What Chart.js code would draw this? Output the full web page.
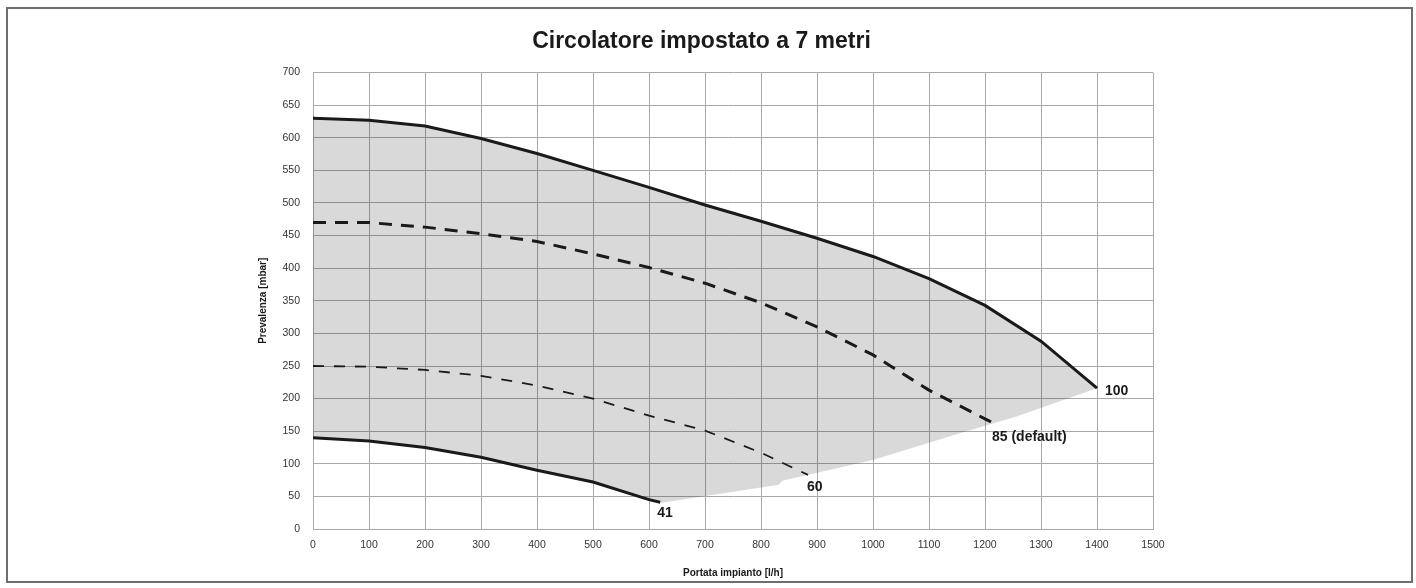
<!DOCTYPE html>
<html lang="it">
<head>
  <meta charset="UTF-8" />
  <title>Circolatore impostato a 7 metri</title>
  <script src="https://cdn.jsdelivr.net/npm/chart.js"></script>
  <style>
    body {
      margin: 0;
      background: #fff;
    }
    .wrap {
      position: relative;
      width: 1416px;
      height: 588px;
    }
    .frame {
      position: absolute;
      left: 6px;
      top: 7px;
      width: 1403px;
      height: 572px;
      border: 2px solid #6e6e6e;
      pointer-events: none;
    }
    canvas {
      position: absolute;
      left: 0;
      top: 0;
    }
  </style>
</head>
<body>
  <div class="wrap">
    <canvas id="pumpChart" width="1416" height="588"></canvas>
    <div class="frame"></div>
  </div>

  <script>
    // portata [l/h] / prevalenza [mbar]
    const flow100 = [0, 100, 200, 300, 400, 500, 600, 700, 800, 900, 1000, 1100, 1200, 1300, 1400];
    const head100 = [630, 627, 618, 599, 576, 550, 524, 497, 472, 446, 418, 384, 343, 288, 216];

    const flow85 = [0, 100, 200, 300, 400, 500, 600, 700, 800, 900, 1000, 1100, 1200, 1216];
    const head85 = [470, 470, 463, 453, 441, 422, 401, 377, 347, 310, 267, 213, 169, 162];

    const flow60 = [0, 100, 200, 300, 400, 500, 600, 700, 800, 884];
    const head60 = [250, 249, 244, 235, 220, 200, 174, 151, 117, 83];

    const flow41 = [0, 100, 200, 300, 400, 500, 600, 620];
    const head41 = [140, 135, 125, 110, 90, 72, 45, 41];

    // bordo inferiore dell'area grigia (da fine curva 41 a fine curva 100)
    const envFlow = [620, 832, 838, 1000, 1155, 1255, 1400];
    const envHead = [40, 68, 74, 106, 147, 172, 216];

    const curveNames = ['100', '85 (default)', '60', '41'];

    const xTicks = { min: 0, max: 1500, step: 100 };
    const yTicks = { min: 0, max: 700, step: 50 };

    const pts = (xs, ys) => xs.map((v, i) => ({ x: v, y: ys[i] }));

    const areaPoints = [
      ...pts(flow100, head100),
      ...pts(envFlow, envHead).reverse(),
      ...pts(flow41, head41).reverse()
    ];

    const FONT = '"Liberation Sans", Arial, sans-serif';

    const endLabels = {
      id: 'endLabels',
      afterDatasetsDraw(chart) {
        const { ctx, scales: { x, y } } = chart;
        const ends = [
          { name: curveNames[0], fx: flow100.at(-1), fy: head100.at(-1), dx: 8, dy: 3 },
          { name: curveNames[1], fx: flow85.at(-1), fy: head85.at(-1), dx: -2, dy: 14 },
          { name: curveNames[2], fx: flow60.at(-1), fy: head60.at(-1), dx: -1, dy: 12 },
          { name: curveNames[3], fx: flow41.at(-1), fy: head41.at(-1), dx: -3, dy: 11 }
        ];
        ctx.save();
        ctx.font = 'bold 14px ' + FONT;
        ctx.fillStyle = '#1a1a1a';
        ctx.textBaseline = 'middle';
        ends.forEach(e => {
          ctx.fillText(e.name, x.getPixelForValue(e.fx) + e.dx, y.getPixelForValue(e.fy) + e.dy);
        });
        ctx.restore();
      }
    };

    const line = (data, width, dash) => ({
      data: data,
      borderColor: '#1a1a1a',
      borderWidth: width,
      borderDash: dash,
      pointRadius: 0,
      tension: 0,
      fill: false,
      order: 1
    });

    new Chart(document.getElementById('pumpChart'), {
      type: 'line',
      data: {
        datasets: [
          {
            data: areaPoints,
            borderWidth: 0,
            borderColor: 'rgba(0,0,0,0)',
            backgroundColor: 'rgba(0,0,0,0.15)',
            pointRadius: 0,
            fill: 'shape',
            order: 2
          },
          line(pts(flow100, head100), 3, []),
          line(pts(flow85, head85), 3, [13, 9]),
          line(pts(flow60, head60), 1.8, [11, 10]),
          line(pts(flow41, head41), 3, [])
        ]
      },
      options: {
        responsive: false,
        animation: false,
        layout: { padding: { left: 250, right: 263, top: 0, bottom: 0 } },
        plugins: {
          legend: { display: false },
          tooltip: { enabled: false },
          title: {
            display: true,
            text: 'Circolatore impostato a 7 metri',
            color: '#1a1a1a',
            font: { family: FONT, size: 23, weight: 'bold' },
            padding: { top: 28, bottom: 17 }
          }
        },
        scales: {
          x: {
            type: 'linear',
            min: xTicks.min,
            max: xTicks.max,
            afterFit: s => { s.height = 59; },
            ticks: {
              stepSize: xTicks.step,
              color: '#333',
              padding: 10,
              font: { family: FONT, size: 10.5 },
              callback: v => String(v)
            },
            grid: { color: '#a8a8a8', lineWidth: 1, drawTicks: false },
            border: { color: '#a8a8a8' },
            title: {
              display: true,
              text: 'Portata impianto [l/h]',
              color: '#1a1a1a',
              font: { family: FONT, size: 10, weight: 'bold' },
              padding: { top: 4, bottom: 9 }
            }
          },
          y: {
            min: yTicks.min,
            max: yTicks.max,
            afterFit: s => { s.width = 63; },
            ticks: {
              stepSize: yTicks.step,
              color: '#333',
              padding: 13,
              font: { family: FONT, size: 10.5 },
              callback: v => String(v)
            },
            grid: { color: '#a8a8a8', lineWidth: 1, drawTicks: false },
            border: { color: '#a8a8a8' },
            title: {
              display: true,
              text: 'Prevalenza [mbar]',
              color: '#1a1a1a',
              font: { family: FONT, size: 10, weight: 'bold' },
              padding: { top: 7, bottom: 0 }
            }
          }
        }
      },
      plugins: [endLabels]
    });
  </script>
</body>
</html>
